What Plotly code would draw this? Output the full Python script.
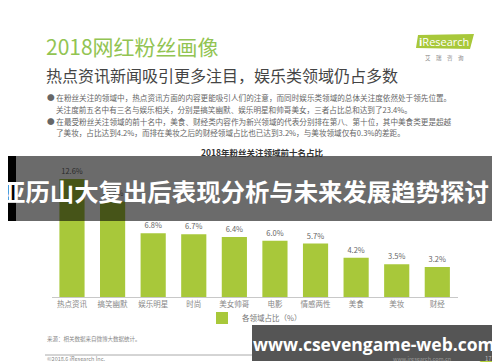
import plotly.graph_objects as go

W, H = 500, 362

categories = ["热点资讯", "搞笑幽默", "娱乐明星", "时尚", "美女帅哥", "电影", "情感两性", "美食", "美妆", "财经"]
values = [12.6, 10.2, 6.8, 6.7, 6.4, 6.0, 5.7, 4.2, 3.5, 3.2]
series_name = "各领域占比（%）"

title_main = "2018网红粉丝画像"
subtitle = "热点资讯新闻吸引更多注目，娱乐类领域仍占多数"
bullets = [
    "● 在粉丝关注的领域中，热点资讯方面的内容更能吸引人们的注意，而同时娱乐类领域的总体关注度依然处于领先位置。",
    "关注度前五名中有三名与娱乐相关，分别是搞笑幽默、娱乐明星和帅哥美女，三者占比总和达到了23.4%。",
    "● 在最受粉丝关注领域的前十名中，美食、财经类内容作为新兴领域的代表分别排在第八、第十位，其中美食类更是超越",
    "了美妆，占比达到4.2%，而排在美妆之后的财经领域占比也已达到3.2%，与美妆领域仅有0.3%的差距。",
]
chart_title = "2018年粉丝关注领域前十名占比"
banner_text = "亚历山大复出后表现分析与未来发展趋势探讨"
watermark = "www.csevengame-web.com"
source_text = "来源：相关数据来自微博大数据统计。"
copyright_text = "©2018.6 iResearch Inc."
site_text = "www.iresearch.com.cn"
page_no = "17"

CJK = "Noto Sans CJK SC"
GREEN = "#a8c83a"


def px(x):
    return x / W


def py(y):
    return 1 - y / H


fig = go.Figure()
fig.add_trace(go.Bar(
    x=categories, y=values, name=series_name,
    marker=dict(color=GREEN, line=dict(width=0)),
    text=[f"{v:.1f}%" for v in values], textposition="outside",
    textfont=dict(size=7.5, color="#666", family=CJK),
    cliponaxis=False,
))

fig.update_layout(
    width=W, height=H,
    margin=dict(l=0, r=0, t=0, b=0),
    paper_bgcolor="white", plot_bgcolor="white",
    bargap=0.38,
    showlegend=True,
    legend=dict(orientation="h", x=px(194), y=py(310), xanchor="left", yanchor="middle",
                font=dict(size=7.5, color="#777", family=CJK), bgcolor="rgba(0,0,0,0)",
                itemwidth=30, tracegroupgap=0),
    xaxis=dict(domain=[px(43.7), px(449.6)], showline=True, linecolor="#c8c8c8", linewidth=1,
               ticks="", tickfont=dict(size=7.5, color="#888", family=CJK), showgrid=False,
               fixedrange=True),
    yaxis=dict(domain=[py(289), py(157.8)], range=[0, 14], visible=False, showgrid=False),
)

ann = []


def text(x, y, s, size, color="#555", anchor="left", bold=False, family=CJK):
    if bold:
        s = f"<b>{s}</b>"
    ann.append(dict(x=px(x), y=py(y), xref="paper", yref="paper", text=s, showarrow=False,
                    xanchor=anchor, yanchor="middle", font=dict(size=size, color=color, family=family)))


text(36, 38, title_main, 21, color="#92c452")
text(36, 67, subtitle, 16, color="#444")
text(37, 89, bullets[0], 7.6, color="#666")
text(46, 101, bullets[1], 7.6, color="#666")
text(37, 113, bullets[2], 7.6, color="#666")
text(46, 125, bullets[3], 7.6, color="#666")
text(254, 144, chart_title, 8.5, color="#333", anchor="center", bold=True)
text(37, 331, source_text, 5.5, color="#888")
text(37, 351, copyright_text, 5.5, color="#888")
text(445, 351, site_text, 5.5, color="#999", anchor="right")
text(480, 350, page_no, 6, color="#bbb", anchor="center")

# logo text
ann.append(dict(x=px(436), y=py(33), xref="paper", yref="paper", text="<b>i</b>Research", showarrow=False,
                xanchor="center", yanchor="middle", font=dict(size=11, color="white", family="Open Sans")))
text(436, 50, "艾　瑞　咨　询", 5.5, color="#888", anchor="center")

# banner text
ann.append(dict(x=px(-9), y=py(182), xref="paper", yref="paper", text=f"<b>{banner_text}</b>",
                showarrow=False, xanchor="left", yanchor="middle",
                font=dict(size=24.4, color="white", family=CJK)))
# watermark text
ann.append(dict(x=px(366), y=py(336), xref="paper", yref="paper", text=f"<b>{watermark}</b>",
                showarrow=False, xanchor="center", yanchor="middle",
                font=dict(size=17.5, color="white", family="Open Sans")))

fig.update_layout(annotations=ann)

shapes = [
    # logo parallelogram
    dict(type="path", xref="paper", yref="paper", layer="below",
         path=f"M {px(408)} {py(40)} L {px(410)} {py(27)} L {px(466)} {py(26)} L {px(462)} {py(41)} Z",
         fillcolor="#a8c83a", line=dict(width=0)),
    # bottom rule
    dict(type="line", xref="paper", yref="paper", x0=px(37), x1=px(470), y0=py(347), y1=py(347),
         line=dict(color="#aaa", width=1), layer="below"),
    # corner triangles
    dict(type="path", xref="paper", yref="paper", layer="below",
         path=f"M {px(484)} {py(345)} L {px(500)} {py(318)} L {px(500)} {py(345)} Z",
         fillcolor="#2f6f7a", line=dict(width=0)),
    dict(type="path", xref="paper", yref="paper", layer="below",
         path=f"M {px(462)} {py(362)} L {px(500)} {py(330)} L {px(500)} {py(362)} Z",
         fillcolor="#b5d33a", line=dict(width=0)),
    # banner overlay
    dict(type="rect", xref="paper", yref="paper", x0=px(8), x1=px(490), y0=py(213), y1=py(148),
         fillcolor="rgba(0,0,0,0.58)", line=dict(width=0), layer="above"),
    dict(type="rect", xref="paper", yref="paper", x0=0, x1=px(8), y0=py(213), y1=py(148),
         fillcolor="black", line=dict(width=0), layer="above"),
    dict(type="rect", xref="paper", yref="paper", x0=px(490), x1=1, y0=py(213), y1=py(148),
         fillcolor="black", line=dict(width=0), layer="above"),
    # watermark box
    dict(type="rect", xref="paper", yref="paper", x0=px(244), x1=px(491), y0=py(353), y1=py(317),
         fillcolor="#555555", line=dict(width=0), layer="above"),
]
fig.update_layout(shapes=shapes)

fig.write_html("out.html")
